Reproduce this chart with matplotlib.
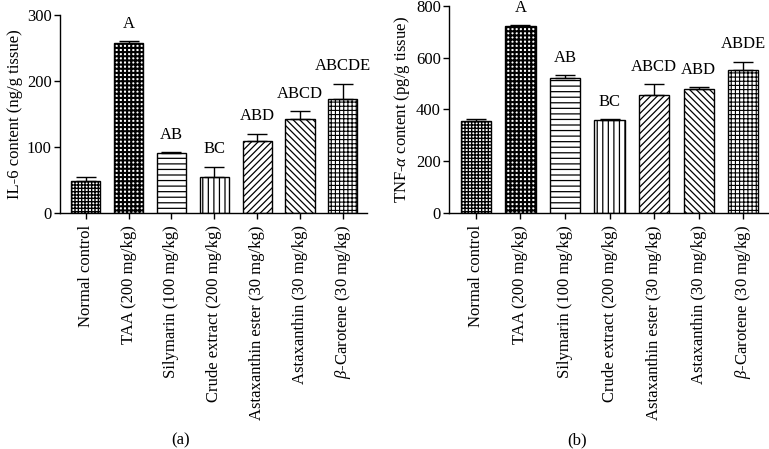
import matplotlib
matplotlib.use('Agg')
import numpy as np
from matplotlib import pyplot as plt

groups = ['Normal control', 'TAA (200 mg/kg)', 'Silymarin (100 mg/kg)',
          'Crude extract (200 mg/kg)', 'Astaxanthin ester (30 mg/kg)',
          'Astaxanthin (30 mg/kg)', r'$\beta$-Carotene (30 mg/kg)']

il6 = [49, 258, 91, 55, 109, 143, 173]
il6_err = [6, 2, 1, 15, 11, 11, 23]
il6_letters = ['', 'A', 'AB', 'BC', 'ABD', 'ABCD', 'ABCDE']

tnf = [356, 723, 520, 360, 457, 478, 552]
tnf_err = [8, 2, 12, 3, 41, 7, 33]
tnf_letters = ['', 'A', 'AB', 'BC', 'ABCD', 'ABD', 'ABDE']

# hatch pattern and hatch line width for each group
hatches = ['+++++', '++++', '---', '|||', '/////', '\\\\\\\\\\', '++++']
hatch_lw = [1.0, 1.5, 0.9, 0.9, 0.9, 0.9, 0.8]

plt.rcParams['font.family'] = ['Liberation Serif', 'DejaVu Serif']
plt.rcParams['mathtext.fontset'] = 'custom'
plt.rcParams['mathtext.rm'] = 'Liberation Serif'
plt.rcParams['mathtext.it'] = 'Liberation Serif:italic'
plt.rcParams['font.size'] = 12


def panel(ax, values, errs, letters, ymax, ystep, ylabel):
    x = np.arange(len(values))
    for i in range(len(values)):
        with plt.rc_context({'hatch.linewidth': hatch_lw[i]}):
            b = ax.bar(x[i], values[i], width=0.68, facecolor='white',
                       edgecolor='black', linewidth=1.0, hatch=hatches[i],
                       zorder=2)
        if hasattr(b[0], 'set_hatch_linewidth'):
            b[0].set_hatch_linewidth(hatch_lw[i])
    ax.errorbar(x, values, yerr=[np.zeros(len(errs)), errs], fmt='none',
                ecolor='black', elinewidth=1.0, capsize=7, capthick=1.0,
                zorder=3)
    for i, lab in enumerate(letters):
        if lab:
            ax.annotate(lab, (x[i], values[i] + errs[i]), xytext=(0, 9.5),
                        textcoords='offset points', ha='center',
                        va='baseline')
    ax.set_xlim(-0.6, len(values) - 1 + 0.56)
    ax.set_ylim(0, ymax)
    ax.set_yticks(np.arange(0, ymax + 1, ystep))
    ax.set_xticks(x)
    ax.set_xticklabels(groups, rotation=90, va='top', ha='center')
    ax.spines['top'].set_visible(False)
    ax.spines['right'].set_visible(False)
    ax.spines['left'].set_linewidth(1.0)
    ax.spines['bottom'].set_linewidth(1.0)
    ax.tick_params(axis='both', direction='out', length=4, width=1.0)
    ax.tick_params(axis='y', pad=2)
    ax.tick_params(axis='x', pad=5)
    ax.set_ylabel(ylabel, labelpad=3)


fig = plt.figure(figsize=(7.69, 4.49), dpi=100)
ax1 = fig.add_axes([0.078, 0.526, 0.399, 0.4406])
ax2 = fig.add_axes([0.584, 0.526, 0.415, 0.4606])

panel(ax1, il6, il6_err, il6_letters, 300, 100, 'IL-6 content (ng/g tissue)')
panel(ax2, tnf, tnf_err, tnf_letters, 800, 200,
      r'TNF-$\alpha$ content (pg/g tissue)')

fig.text(0.235, 0.02, '(a)', ha='center', va='center')
fig.text(0.75, 0.02, '(b)', ha='center', va='center')

fig.savefig('out.png', dpi=100)
